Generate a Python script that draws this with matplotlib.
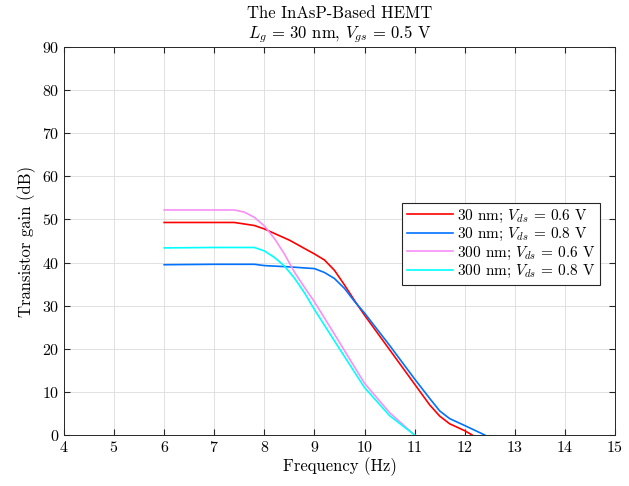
import matplotlib
matplotlib.use("Agg")
import matplotlib.pyplot as plt
import numpy as np

plt.rcParams['font.family'] = 'serif'
plt.rcParams['font.serif'] = ['cmr10']
plt.rcParams['mathtext.fontset'] = 'cm'
plt.rcParams['axes.formatter.use_mathtext'] = True

# gain curves, frequency in Hz, gain in dB
f_30_06 = [6, 6.5, 7, 7.4, 7.8, 8.0, 8.5, 9.0, 9.2, 9.4, 9.6, 9.8, 10.0, 10.5, 11.0, 11.3, 11.5, 11.7, 12.0, 12.15]
g_30_06 = [49.3, 49.3, 49.3, 49.3, 48.6, 47.8, 45.2, 42.0, 40.6, 38.2, 34.8, 31.2, 27.8, 19.8, 11.8, 7.0, 4.4, 2.6, 1.0, 0]

f_30_08 = [6, 7, 7.8, 8.0, 8.5, 9.0, 9.2, 9.4, 9.6, 9.8, 10.0, 10.5, 11.0, 11.3, 11.5, 11.7, 12.0, 12.4]
g_30_08 = [39.5, 39.6, 39.6, 39.3, 39.0, 38.6, 37.7, 36.3, 34.0, 31.0, 28.3, 20.8, 13.0, 8.5, 5.6, 3.8, 2.2, 0]

f_300_06 = [6, 7, 7.4, 7.6, 7.8, 8.0, 8.2, 8.4, 8.6, 8.8, 9.0, 9.5, 10.0, 10.5, 11.0]
g_300_06 = [52.2, 52.2, 52.2, 51.7, 50.5, 48.5, 45.6, 42.0, 37.8, 34.3, 30.9, 21.5, 12.0, 5.2, 0]

f_300_08 = [6, 7, 7.8, 8.0, 8.2, 8.4, 8.6, 8.8, 9.0, 9.5, 10.0, 10.5, 11.0]
g_300_08 = [43.4, 43.5, 43.5, 42.7, 41.2, 39.2, 36.4, 33.0, 29.1, 20.0, 11.0, 4.5, 0]

fig = plt.figure(figsize=(6.29, 4.86), dpi=100)
ax = fig.add_axes([0.1017, 0.1049, 0.876, 0.7984])

lw = 1.2
ax.plot(f_30_06, g_30_06, color='#ff0000', lw=lw, label=r'30 nm; $V_{ds}\,=\,0.6$ V')
ax.plot(f_30_08, g_30_08, color='#0072ff', lw=lw, label=r'30 nm; $V_{ds}\,=\,0.8$ V')
ax.plot(f_300_06, g_300_06, color='#f78ff7', lw=lw, label=r'300 nm; $V_{ds}\,=\,0.6$ V')
ax.plot(f_300_08, g_300_08, color='#00ffff', lw=lw, label=r'300 nm; $V_{ds}\,=\,0.8$ V')

ax.set_xlim(4, 15)
ax.set_ylim(0, 90)
ax.set_xticks(np.arange(4, 16, 1))
ax.set_yticks(np.arange(0, 91, 10))
ax.grid(True, color='#dcdcdc', lw=0.6)
ax.set_axisbelow(True)
ax.tick_params(direction='in', labelsize=11.5, length=4, top=True, right=True, color='#262626')
for s in ax.spines.values():
    s.set_color('#262626')
    s.set_linewidth(0.7)

ax.set_xlabel('Frequency (Hz)', fontsize=12, labelpad=2)
ax.set_ylabel('Transistor gain (dB)', fontsize=12)
ax.set_title('The InAsP-Based HEMT\n' + r'$L_g\,=\,30$ nm, $V_{gs}\,=\,0.5$ V', fontsize=12, pad=6)

leg = ax.legend(loc='upper right', bbox_to_anchor=(0.973, 0.598), borderaxespad=0, fontsize=11,
                fancybox=False, framealpha=1, edgecolor='#262626',
                handlelength=3.0, borderpad=0.3, labelspacing=0.1, handletextpad=0.3)
leg.get_frame().set_linewidth(0.8)

fig.savefig('out.png', dpi=100)
